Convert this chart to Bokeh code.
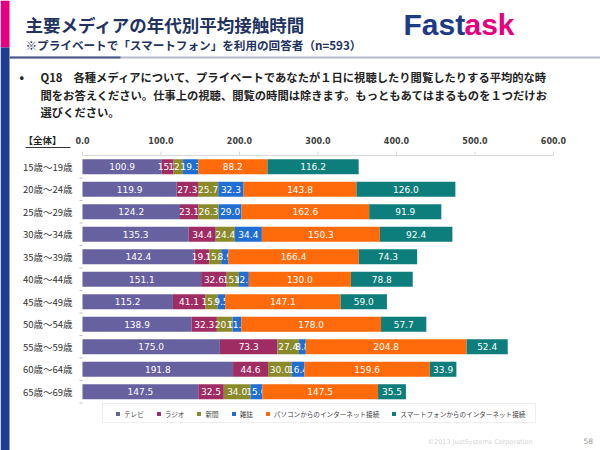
from bokeh.plotting import figure
from bokeh.models import (Range1d, Label, BoxAnnotation, Legend, LegendItem, ColumnDataSource)
from bokeh.core.properties import value
from bokeh.embed import file_html
from bokeh.resources import INLINE

# ---------------- data ----------------
ages = ["15歳～19歳", "20歳～24歳", "25歳～29歳", "30歳～34歳", "35歳～39歳", "40歳～44歳",
        "45歳～49歳", "50歳～54歳", "55歳～59歳", "60歳～64歳", "65歳～69歳"]
series_names = ["テレビ", "ラジオ", "新聞", "雑誌",
                "パソコンからのインターネット接続", "スマートフォンからのインターネット接続"]
tv = [100.9, 119.9, 124.2, 135.3, 142.4, 151.1, 115.2, 138.9, 175.0, 191.8, 147.5]
radio = [15.2, 27.3, 23.1, 34.4, 19.1, 32.6, 41.1, 32.3, 73.3, 44.6, 32.5]
newspaper = [12.0, 25.7, 26.3, 24.4, 15.2, 15.6, 15.9, 20.0, 27.4, 30.0, 34.0]
magazine = [19.3, 32.3, 29.0, 34.4, 8.9, 12.6, 9.5, 11.1, 8.8, 16.4, 15.0]
pc_net = [88.2, 143.8, 162.6, 150.3, 166.4, 130.0, 147.1, 178.0, 204.8, 159.6, 147.5]
phone_net = [116.2, 126.0, 91.9, 92.4, 74.3, 78.8, 59.0, 57.7, 52.4, 33.9, 35.5]
x_ticks = [0, 100, 200, 300, 400, 500, 600]

colors = ["#67619f", "#a02c64", "#8b8a2b", "#1f6ed4", "#ff6a0a", "#0d7e7b"]
series = [tv, radio, newspaper, magazine, pc_net, phone_net]

NAVY = "#22335f"
JP = "Noto Sans CJK JP"
N = len(ages)

# ---------------- geometry helpers (slide pixel -> data units) ----------------
X0_PX, X600_PX = 82, 553        # slide px where value 0 and 600 lie
ROWS_TOP_PX, ROW_PX = 155, 22.5  # slide px of top of first row band, px per row
W, H = 600, 450


def px_x(rx):
    return (rx - X0_PX) * (x_ticks[-1] - x_ticks[0]) / (X600_PX - X0_PX)


def px_y(ry):
    return (ry - ROWS_TOP_PX) / ROW_PX


p = figure(width=W, height=H, output_backend="svg", toolbar_location=None,
           x_range=Range1d(px_x(0), px_x(W)),
           y_range=Range1d(px_y(H), px_y(0)),
           x_axis_location=None, y_axis_location=None,
           min_border_left=0, min_border_right=0, min_border_top=0, min_border_bottom=0)
p.outline_line_color = None
p.xgrid.grid_line_color = None
p.ygrid.grid_line_color = None
p.background_fill_color = "white"
p.border_fill_color = "white"

# ---------------- bars ----------------
ycent = [i + 0.5 for i in range(N)]
left = [0.0] * N
renderers = []
for name, vals, col in zip(series_names, series, colors):
    right = [l + v for l, v in zip(left, vals)]
    src = ColumnDataSource(dict(y=ycent, left=left, right=right,
                                mid=[(l + r) / 2 for l, r in zip(left, right)],
                                lab=["%.1f" % v for v in vals]))
    r = p.hbar(y="y", left="left", right="right", height=0.67, source=src,
               fill_color=col, line_color=None)
    renderers.append(r)
    p.text(x="mid", y="y", text="lab", source=src, text_color="white",
           text_font=value("DejaVu Sans"), text_font_size="9px",
           text_align="center", text_baseline="middle")
    left = right

# ---------------- value axis (top) ----------------
axis_y = 0
p.segment(x0=[x_ticks[0]], x1=[x_ticks[-1]], y0=[axis_y], y1=[axis_y],
          line_color="#d9d9d9", line_width=1)
p.segment(x0=x_ticks, x1=x_ticks, y0=[axis_y] * len(x_ticks), y1=[px_y(151)] * len(x_ticks),
          line_color="#d9d9d9", line_width=1)
p.text(x=x_ticks, y=[px_y(139.5)] * len(x_ticks), text=["%.1f" % t for t in x_ticks],
       text_font=value("DejaVu Sans"), text_font_style="bold", text_font_size="8px",
       text_color="#404040", text_align="center", text_baseline="middle")

# ---------------- category axis (left) ----------------
p.text(x=[px_x(72)] * N, y=ycent, text=ages, text_font=value(JP), text_font_size="9.5px",
       text_color="#333333", text_align="right", text_baseline="middle")
bounds = [i for i in range(1, N + 1)]
p.segment(x0=[px_x(79)] * N, x1=[0] * N, y0=bounds, y1=bounds, line_color="#bfbfbf", line_width=1)

# ---------------- legend ----------------
legend = Legend(items=[LegendItem(label=n, renderers=[r]) for n, r in zip(series_names, renderers)],
                orientation="horizontal", location=(115, 31.5),
                glyph_width=5, glyph_height=5, label_standoff=4, spacing=12,
                padding=0, margin=0, label_width=0, label_height=10,
                label_text_font=JP, label_text_font_size="6.6px", label_text_color="#404040",
                border_line_color=None, background_fill_alpha=0)
p.add_layout(legend)
p.add_layout(BoxAnnotation(left=px_x(102), right=px_x(535), top=px_y(403), bottom=px_y(422),
                           fill_alpha=0, line_color="#c8c8c8", line_width=1))


# ---------------- texts & decorations ----------------
def label(rx, ry, text, size, color="#222222", bold=True, font=JP, align="left"):
    p.add_layout(Label(x=px_x(rx), y=px_y(ry), text=text, text_font=font,
                       text_font_size=size, text_font_style="bold" if bold else "normal",
                       text_color=color, text_baseline="middle", text_align=align))


def box(x0, x1, y0, y1, color):
    p.add_layout(BoxAnnotation(left=px_x(x0), right=px_x(x1), top=px_y(y0), bottom=px_y(y1),
                               fill_color=color, fill_alpha=1, line_color=None))


# side strips of the slide
box(0, 9, 0, 47, "#e4007f")
box(0, 9, 47, 450, "#1f3d8f")

label(25, 23.5, "主要メディアの年代別平均接触時間", "17.5px", NAVY)
label(25, 44, "※プライベートで「スマートフォン」を利用の回答者（n=593）", "11.6px", NAVY)
label(403, 24, "Fast", "30px", "#1c3b84", font="Liberation Sans")
label(464, 24, "ask", "30px", "#e5007e", font="Liberation Sans")

# header rule
box(9, 600, 56, 58, "#b4bbc9")
box(9, 120, 56, 58, "#4a5a88")

label(19, 76, "•", "12px", "#222222")
label(40, 76, "Q18", "11.3px")
label(73, 76, "各種メディアについて、プライベートであなたが１日に視聴したり閲覧したりする平均的な時", "11.3px")
label(40, 94, "間をお答えください。仕事上の視聴、閲覧の時間は除きます。もっともあてはまるものを１つだけお", "11.3px")
label(40, 111.5, "選びください。", "11.3px")

label(23, 139, "【全体】", "9.5px", "#222222")
box(25, 70, 146.5, 147.5, "#333333")

label(427, 441, "©2013 JustSystems Corporation", "6.5px", "#d4d4d4", bold=False, font="DejaVu Sans")
label(583, 440, "58", "7.5px", "#999999", bold=False, font="DejaVu Sans")

open("out.html", "w").write(file_html(p, INLINE))
